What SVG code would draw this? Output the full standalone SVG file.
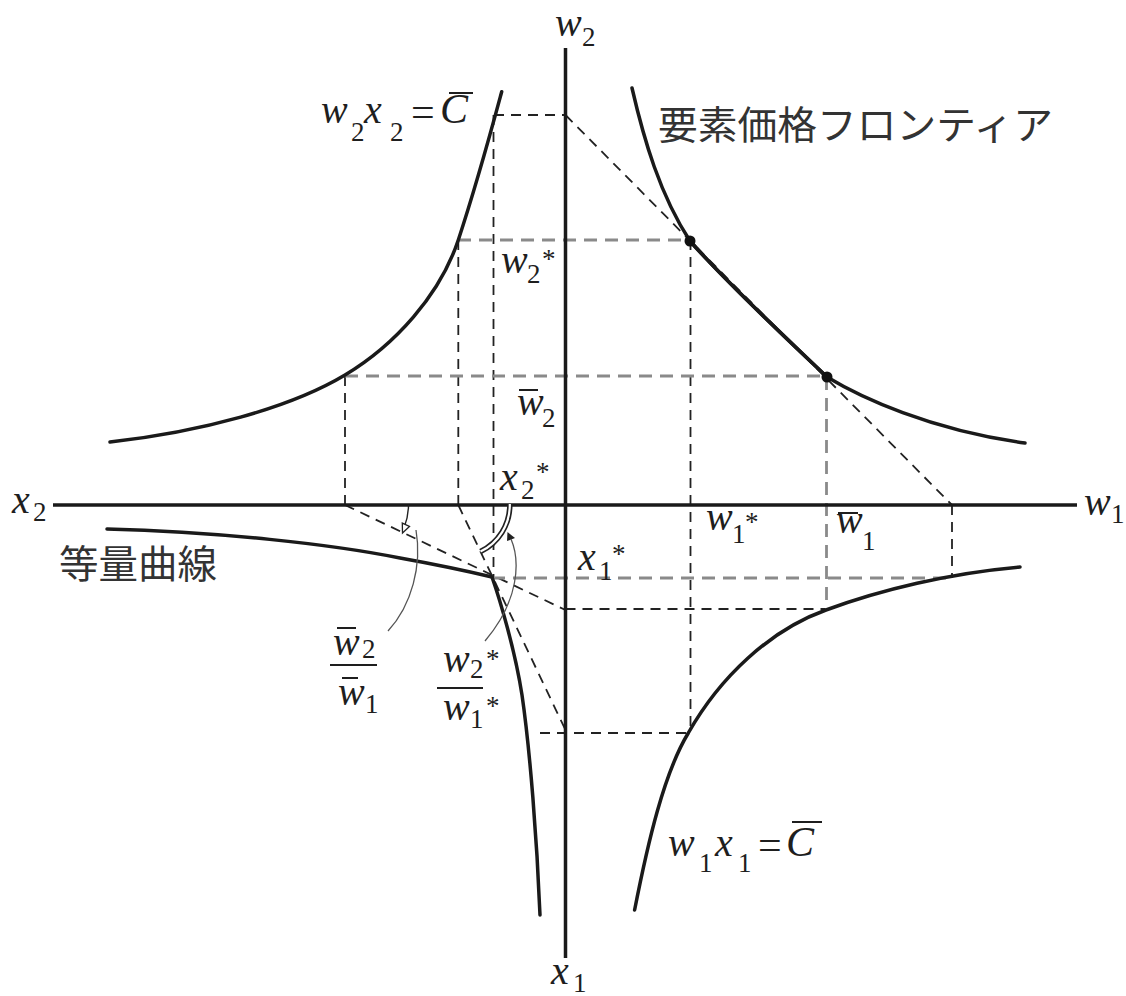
<svg xmlns="http://www.w3.org/2000/svg" width="1126" height="996" viewBox="0 0 1126 996">
<style>
.ax{stroke:#1a1a1a;stroke-width:3.5;fill:none}
.cv{stroke:#1a1a1a;stroke-width:3.5;fill:none;stroke-linecap:round}
.dk{stroke:#222;stroke-width:1.8;stroke-dasharray:10 7;fill:none}
.gr{stroke:#8a8a8a;stroke-width:2.8;stroke-dasharray:13 8;fill:none}
.t{fill:#1e1e1e}
.i{font-style:italic}
.b{font-size:40px}
.s{font-size:27px}
.jp{font-family:"Noto Sans CJK JP","Noto Sans CJK SC",sans-serif;font-size:39px;fill:#333}
.bar{stroke:#1e1e1e;stroke-width:2}
.ld{stroke:#555;stroke-width:1.3;fill:none}
</style>
<rect width="1126" height="996" fill="#fff"/>

<g id="connectors">
  <path class="dk" d="M494,115 H565.5"/>
  <path class="dk" d="M565.5,115 L952,505"/>
  <path class="dk" d="M345,376 V505"/>
  <path class="dk" d="M458.3,240 V505"/>
  <path class="dk" d="M493.5,115 V577"/>
  <path class="dk" d="M690.5,240 V733"/>
  <path class="dk" d="M952,505 V578"/>
  <path class="dk" d="M565.5,609 H826"/>
  <path class="dk" d="M540,733 H690"/>
  <path class="dk" d="M345,505 L565.5,610"/>
  <path class="dk" d="M458.3,505 L565.5,730"/>
  <path class="gr" d="M458,240 H690"/>
  <path class="gr" d="M345,376 H827"/>
  <path class="gr" d="M492,578 H952"/>
  <path class="gr" d="M826.5,377 V609"/>
</g>

<g id="axes">
  <line class="ax" x1="565.5" y1="48" x2="565.5" y2="958"/>
  <line class="ax" x1="53" y1="505" x2="1077" y2="505"/>
</g>

<g id="curve-w2x2">
  <path class="cv" d="M501.7,91.7 C490,135 478,180 458.3,240 C440,295 395,345 345,375 C290,408 200,432 110,442"/>
</g>

<g id="curve-frontier">
  <path class="cv" d="M632,88 C644,140 660,195 690,241 C730,286 785,337 827,377 C860,397 930,430 1025,443"/>
  <path class="cv" stroke-width="5" d="M690,241 C730,286 785,337 827,377"/>
  <circle cx="690" cy="241" r="5.5" fill="#111"/>
  <circle cx="827" cy="377" r="5.5" fill="#111"/>
</g>

<g id="curve-w1x1">
  <path class="cv" d="M634.6,910 C648,842 664,773 688.3,733 C720,677 770,630 826,610 C880,590 950,573 1020,567"/>
</g>

<g id="isoquant">
  <path class="cv" d="M107,529 C220,532 330,544 400,558 Q450,567 492,577"/>
  <path class="cv" d="M492,577 C500,600 515,650 522,695 C530,750 537,840 540,915"/>
</g>

<g id="angle-marks">
  <path fill="none" stroke="#222" stroke-width="1.4" d="M408.5,505 A63.5,63.5 0 0 1 404,528"/>
  <polygon points="402.5,533 409.5,526.5 402.3,523.1" fill="#fff" stroke="#222" stroke-width="1.3"/>
  <path class="ld" d="M416,530 C422,565 412,605 388,631"/>
  <path fill="none" stroke="#222" stroke-width="5.5" d="M509.8,505 A51.5,51.5 0 0 1 480.5,551.5"/>
  <path fill="none" stroke="#fff" stroke-width="2.2" d="M509.8,504 A51.5,51.5 0 0 1 480.5,551.5"/>
  <polygon points="507.5,532 507,541 515,538" fill="#222"/>
  <path class="ld" d="M511,539 C520,560 520,600 485,641"/>
</g>

<g font-family="Liberation Serif, DejaVu Serif, serif">
<g id="labels-axes">
  <text class="t i b" x="555" y="36">w</text><text class="t s" x="582" y="46">2</text>
  <text class="t i b" x="551" y="984">x</text><text class="t s" x="573" y="992">1</text>
  <text class="t i b" x="12" y="513">x</text><text class="t s" x="33" y="521">2</text>
  <text class="t i b" x="1084" y="515">w</text><text class="t s" x="1111" y="523">1</text>
</g>

<g id="label-w2x2">
  <text class="t i b" x="321" y="123">w</text>
  <text class="t s" x="351" y="141">2</text>
  <text class="t i b" x="364" y="123">x</text>
  <text class="t s" x="390" y="141">2</text>
  <text class="t" font-size="42" x="411" y="126">=</text>
  <text class="t i" font-size="42" x="440" y="123">C</text>
  <line class="bar" x1="449" y1="93" x2="473" y2="93"/>
</g>

<g id="label-w1x1">
  <text class="t i b" x="668" y="856">w</text>
  <text class="t s" x="699" y="872">1</text>
  <text class="t i b" x="715" y="856">x</text>
  <text class="t s" x="738" y="872">1</text>
  <text class="t" font-size="42" x="758" y="859">=</text>
  <text class="t i" font-size="42" x="786" y="856">C</text>
  <line class="bar" x1="792" y1="822" x2="822" y2="822"/>
</g>

<g id="label-w2star">
  <text class="t i b" x="501" y="273">w</text><text class="t s" x="527" y="283">2</text><text class="t s" x="542" y="268">*</text>
</g>
<g id="label-w2bar">
  <text class="t i b" x="517" y="415">w</text><line class="bar" x1="519" y1="390" x2="538" y2="390"/><text class="t s" x="542" y="427">2</text>
</g>
<g id="label-x2star">
  <text class="t i b" x="500" y="490">x</text><text class="t s" x="521" y="499">2</text><text class="t s" x="536" y="481">*</text>
</g>
<g id="label-x1star">
  <text class="t i b" x="578" y="570">x</text><text class="t s" x="599" y="580">1</text><text class="t s" x="612" y="563">*</text>
</g>
<g id="label-w1star">
  <text class="t i b" x="706" y="530">w</text><text class="t s" x="732" y="543">1</text><text class="t s" x="745" y="531">*</text>
</g>
<g id="label-w1bar">
  <text class="t i b" x="836" y="533">w</text><line class="bar" x1="838" y1="513" x2="858" y2="513"/><text class="t s" x="862" y="550">1</text>
</g>

<g id="label-ratio-bar">
  <text class="t i b" x="333" y="655">w</text><line class="bar" x1="337" y1="628" x2="356" y2="628"/><text class="t s" x="362" y="658">2</text>
  <line class="bar" x1="330" y1="665" x2="377" y2="665"/>
  <text class="t i b" x="338" y="705">w</text><line class="bar" x1="342" y1="678" x2="358" y2="678"/><text class="t s" x="365" y="713">1</text>
</g>
<g id="label-ratio-star">
  <text class="t i b" x="443" y="672">w</text><text class="t s" x="470" y="678">2</text><text class="t s" x="486" y="668">*</text>
  <line class="bar" x1="437" y1="688" x2="483" y2="688"/>
  <text class="t i b" x="443" y="720">w</text><text class="t s" x="470" y="728">1</text><text class="t s" x="486" y="715">*</text>
</g>
</g>

<g id="label-frontier">
  <text class="jp" x="658" y="139" textLength="395" lengthAdjust="spacingAndGlyphs">要素価格フロンティア</text>
</g>
<g id="label-isoquant">
  <text class="jp" x="59" y="578" textLength="158" lengthAdjust="spacingAndGlyphs">等量曲線</text>
</g>
</svg>
